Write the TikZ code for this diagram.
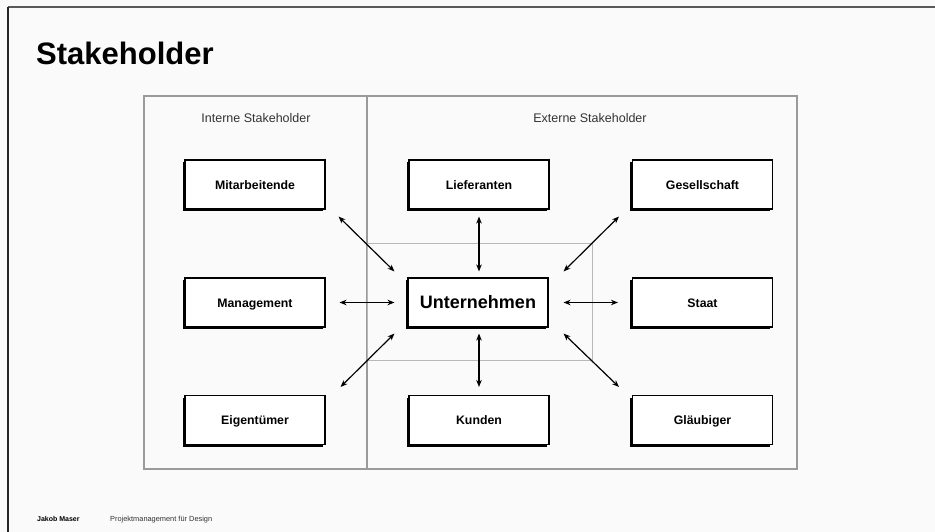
\documentclass[tikz,border=0pt]{standalone}
\usepackage{fontspec}
\setmainfont{Liberation Sans}
\usetikzlibrary{arrows.meta,shadows,calc}

\definecolor{pagebg}{HTML}{FAFAFA}
\definecolor{framegray}{HTML}{9A9A9A}
\definecolor{innergray}{HTML}{B8B8B8}
\definecolor{textgray}{HTML}{333333}

\tikzset{
  stakebox/.style={draw=black, line width=1.1pt, fill=white,
    minimum width=140pt, minimum height=49pt, inner sep=0pt,
    text height=10.5pt, text depth=1pt,
    font=\bfseries\fontsize{12.3}{14}\selectfont,
    drop shadow={shadow xshift=-2.4pt, shadow yshift=-2.4pt, fill=black, opacity=1}},
  centerbox/.style={stakebox, text height=14pt, text depth=2.8pt,
    font=\bfseries\fontsize{18}{21}\selectfont},
  rel/.style={line width=1.2pt, {Stealth[length=7pt,width=5.5pt]}-{Stealth[length=7pt,width=5.5pt]}},
  grouplabel/.style={text=textgray, font=\fontsize{12.5}{15}\selectfont, inner sep=0pt},
}

\begin{document}
\begin{tikzpicture}[x=1pt, y=-1pt]
  % page area and slide edges
  \fill[pagebg] (0,0) rectangle (935,532);
  \useasboundingbox (0,0) rectangle (935,532);
  \draw[line width=2pt, color=black!65] (8,7) -- (935,7);
  \draw[line width=2pt, color=black!85] (8,7) -- (8,532);

  % title
  \node[anchor=base west, inner sep=0pt, font=\bfseries\fontsize{31}{35}\selectfont] (title) at (36,65) {Stakeholder};

  % group frames
  \draw[framegray, line width=1.1pt] (144,96) rectangle (797,469);
  \draw[framegray, line width=1.1pt] (367,96) -- (367,469);
  \draw[innergray, line width=1pt] (367,243) rectangle (592,360);

  \node[grouplabel] (intern) at (256,118) {Interne Stakeholder};
  \node[grouplabel] (extern) at (590,118) {Externe Stakeholder};

  % stakeholder boxes
  \node[stakebox] (mit) at (255,184.5) {Mitarbeitende};
  \node[stakebox] (lief) at (479,184.5) {Lieferanten};
  \node[stakebox] (ges) at (702.5,184.5) {Gesellschaft};
  \node[stakebox] (man) at (255,302.5) {Management};
  \node[centerbox] (unt) at (478,302.5) {Unternehmen};
  \node[stakebox] (staat) at (702.5,302.5) {Staat};
  \node[stakebox] (eig) at (255,420) {Eigentümer};
  \node[stakebox] (kun) at (479,420) {Kunden};
  \node[stakebox] (gla) at (702.5,420) {Gläubiger};

  % relations to the company
  \draw[rel, shorten <=7pt, shorten >=6pt] (lief.south) -- (unt.north -| lief.south);
  \draw[rel, shorten <=6pt, shorten >=8pt] (unt.south -| kun.north) -- (kun.north);
  \draw[rel, shorten <=14pt, shorten >=13pt] (man.east) -- (unt.west);
  \draw[rel, shorten <=15pt, shorten >=14pt] (unt.east) -- (staat.west);
  \draw[rel] ($(mit.south east)+(13,7)$) -- ($(unt.north west)+(-13,-6)$);
  \draw[rel] ($(unt.north east)+(15,-6)$) -- ($(ges.south west)+(-13,7)$);
  \draw[rel] ($(eig.north east)+(15,-8)$) -- ($(unt.south west)+(-13,6)$);
  \draw[rel] ($(unt.south east)+(15,6)$) -- ($(gla.north west)+(-13,-8)$);

  % footer
  \node[anchor=base west, inner sep=0pt, font=\bfseries\fontsize{7}{8}\selectfont] (author) at (37,521) {Jakob Maser};
  \node[anchor=base west, inner sep=0pt, text=textgray, font=\fontsize{7.4}{9}\selectfont] (course) at (110,521) {Projektmanagement für Design};
\end{tikzpicture}
\end{document}
